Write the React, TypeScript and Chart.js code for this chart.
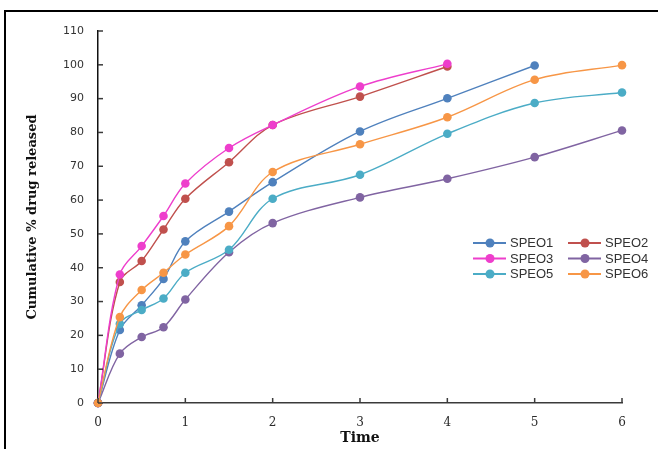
import React, { useEffect, useRef } from "react";
import { Chart, registerables } from "chart.js";

Chart.register(...registerables);

const times = [0, 0.25, 0.5, 0.75, 1, 1.5, 2, 3, 4, 5, 6];
const seriesNames = ["SPEO1", "SPEO2", "SPEO3", "SPEO4", "SPEO5", "SPEO6"];
const speo1 = [0, 21.6, 28.9, 36.7, 47.8, 56.6, 65.3, 80.3, 90.1, 99.8];
const speo2 = [0, 35.8, 42.0, 51.3, 60.4, 71.2, 82.2, 90.6, 99.5];
const speo3 = [0, 38.0, 46.4, 55.3, 64.9, 75.4, 82.2, 93.6, 100.3];
const speo4 = [0, 14.6, 19.5, 22.4, 30.6, 44.6, 53.2, 60.8, 66.3, 72.7, 80.6];
const speo5 = [0, 23.4, 27.5, 30.9, 38.5, 45.3, 60.4, 67.5, 79.6, 88.7, 91.8];
const speo6 = [0, 25.4, 33.4, 38.5, 43.9, 52.3, 68.3, 76.5, 84.5, 95.6, 99.9];
const seriesValues = [speo1, speo2, speo3, speo4, speo5, speo6];
const colors = ["#4F81BD", "#C0504D", "#EE3ECC", "#8064A2", "#4BACC6", "#F79646"];
const xTicks = [0, 1, 2, 3, 4, 5, 6];
const yTicks = [0, 10, 20, 30, 40, 50, 60, 70, 80, 90, 100, 110];

const AXIS_COLOR = "#3a3a3a";

const innerTicksPlugin = {
  id: "innerTicks",
  afterDraw(chart: any) {
    const ctx = chart.ctx;
    const xs = chart.scales.x;
    const ys = chart.scales.y;
    ctx.save();
    ctx.strokeStyle = AXIS_COLOR;
    ctx.lineWidth = 1.5;
    const x0 = xs.getPixelForValue(0);
    const y0 = ys.getPixelForValue(0);
    yTicks.forEach((v) => {
      const py = ys.getPixelForValue(v);
      ctx.beginPath();
      ctx.moveTo(x0, py);
      ctx.lineTo(x0 + 5, py);
      ctx.stroke();
    });
    xTicks.forEach((v) => {
      const px = xs.getPixelForValue(v);
      ctx.beginPath();
      ctx.moveTo(px, y0);
      ctx.lineTo(px, y0 - 5);
      ctx.stroke();
    });
    ctx.restore();
  },
};

const legendPlugin = {
  id: "insideLegend",
  afterDraw(chart: any) {
    const ctx = chart.ctx;
    const colX = [473, 568];
    const rowY = [243, 258.5, 274];
    ctx.save();
    ctx.font = "13px 'Liberation Sans', Arial, sans-serif";
    ctx.textBaseline = "middle";
    ctx.textAlign = "left";
    seriesNames.forEach((name, i) => {
      const cx = colX[i % 2];
      const cy = rowY[Math.floor(i / 2)];
      ctx.strokeStyle = colors[i];
      ctx.lineWidth = 1.8;
      ctx.beginPath();
      ctx.moveTo(cx, cy);
      ctx.lineTo(cx + 33, cy);
      ctx.stroke();
      ctx.fillStyle = colors[i];
      ctx.beginPath();
      ctx.arc(cx + 17, cy, 4.5, 0, Math.PI * 2);
      ctx.fill();
      ctx.fillStyle = "#333333";
      ctx.fillText(name, cx + 37, cy + 0.5);
    });
    ctx.restore();
  },
};

export default function App() {
  const canvasRef = useRef<HTMLCanvasElement | null>(null);

  useEffect(() => {
    if (!canvasRef.current) return;
    const datasets = seriesNames.map((name, i) => ({
      label: name,
      data: seriesValues[i].map((v, j) => ({ x: times[j], y: v })),
      borderColor: colors[i],
      backgroundColor: colors[i],
      pointBackgroundColor: colors[i],
      pointBorderColor: colors[i],
      pointRadius: 4.3,
      pointBorderWidth: 0,
      borderWidth: 1.4,
      tension: 0.35,
      clip: false as any,
      order: seriesNames.length - i,
    }));
    const chart = new Chart(canvasRef.current, {
      type: "line",
      data: { datasets },
      options: {
        animation: false,
        responsive: false,
        devicePixelRatio: 1,
        layout: { padding: { left: 0, right: 36, top: 31, bottom: 0 } },
        plugins: {
          legend: { display: false },
          tooltip: { enabled: false },
        },
        scales: {
          x: {
            type: "linear",
            min: 0,
            max: 6,
            afterFit: (scale: any) => {
              scale.height = 46;
            },
            afterBuildTicks: (scale: any) => {
              scale.ticks = xTicks.map((v) => ({ value: v }));
            },
            grid: { display: false, drawTicks: false },
            border: { display: true, color: AXIS_COLOR, width: 1.5 },
            ticks: {
              padding: 13,
              color: "#2a2a2a",
              font: { family: "'DejaVu Serif', serif", size: 12 },
            },
            title: {
              display: true,
              text: "Time",
              color: "#111111",
              padding: { top: 0, bottom: 2 },
              font: { family: "'DejaVu Serif', serif", size: 14, weight: "bold" },
            },
          },
          y: {
            type: "linear",
            min: 0,
            max: 110,
            afterFit: (scale: any) => {
              scale.width = 98;
            },
            afterBuildTicks: (scale: any) => {
              scale.ticks = yTicks.map((v) => ({ value: v }));
            },
            grid: { display: false, drawTicks: false },
            border: { display: true, color: "#111111", width: 1.5 },
            ticks: {
              padding: 14,
              color: "#333333",
              font: { family: "'DejaVu Sans', sans-serif", size: 11 },
            },
            title: {
              display: true,
              text: "Cumulative % drug released",
              color: "#111111",
              padding: { top: 25, bottom: 0 },
              font: { family: "'DejaVu Serif', serif", size: 13, weight: "bold" },
            },
          },
        },
      },
      plugins: [innerTicksPlugin, legendPlugin],
    });
    return () => chart.destroy();
  }, []);

  return (
    <div
      style={{
        position: "absolute",
        left: 0,
        top: 0,
        width: 658,
        height: 449,
        background: "#ffffff",
        overflow: "hidden",
      }}
    >
      <canvas
        ref={canvasRef}
        width={658}
        height={449}
        style={{ position: "absolute", left: 0, top: 0, width: 658, height: 449 }}
      />
      <div
        style={{
          position: "absolute",
          left: 4,
          top: 10,
          width: 700,
          height: 500,
          borderLeft: "2px solid #000",
          borderTop: "2px solid #000",
          pointerEvents: "none",
        }}
      />
    </div>
  );
}
